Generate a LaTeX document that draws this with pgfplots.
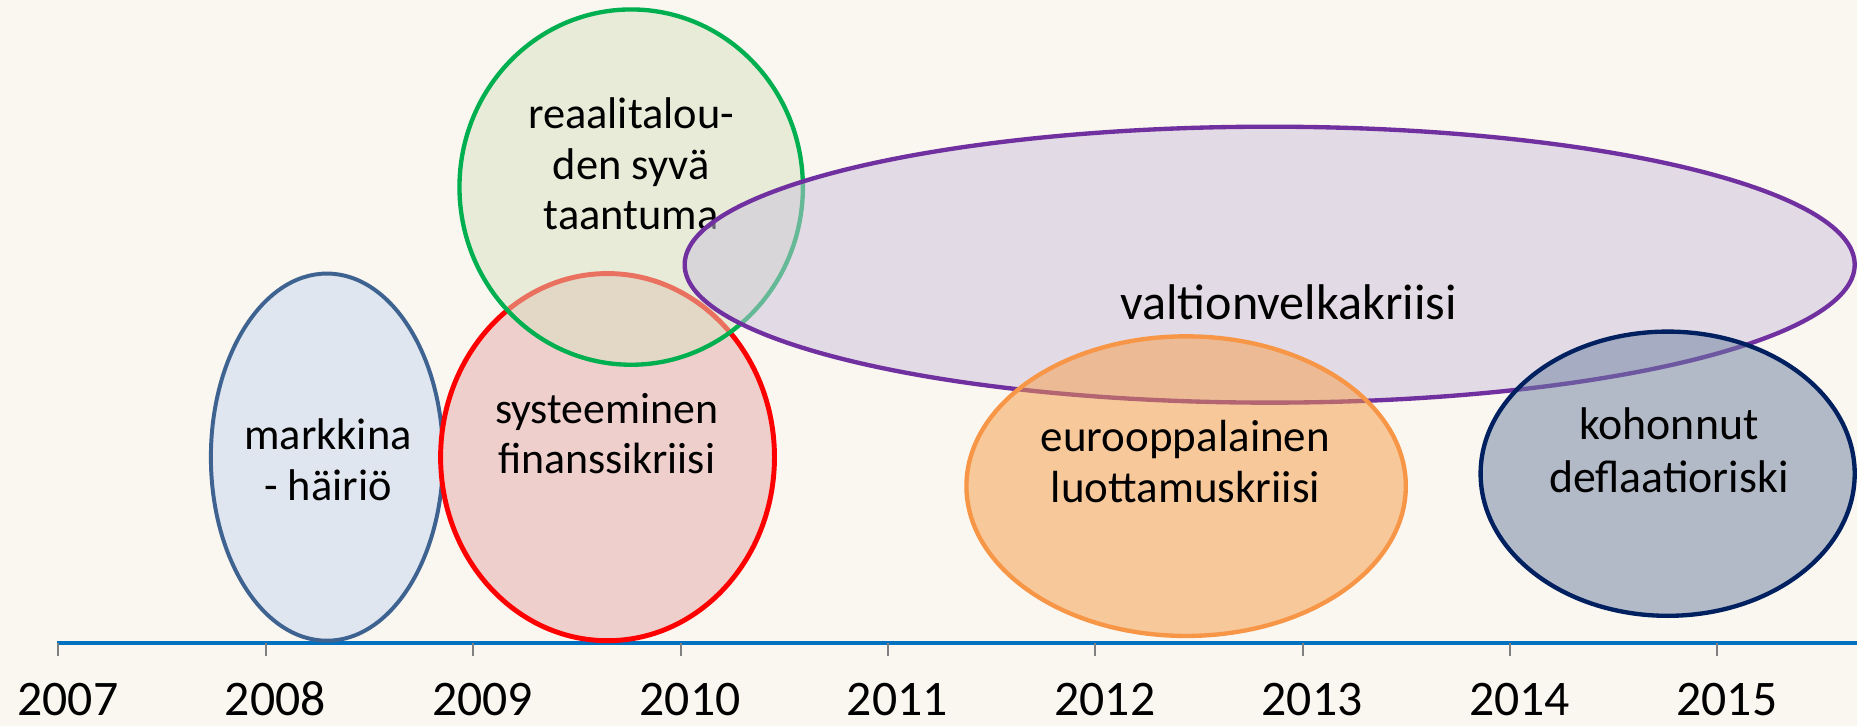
\documentclass[border=0pt]{standalone}
\usepackage{pgfplots}
\pgfplotsset{compat=1.18}
\usepackage{fontspec}
\setmainfont{Carlito}
\definecolor{bgc}{HTML}{FAF6F0}
\definecolor{blueL}{HTML}{3E6391}
\definecolor{blueF}{HTML}{DFE6EF}
\definecolor{redL}{HTML}{FF0000}
\definecolor{redF}{HTML}{EFCFCC}
\definecolor{greenL}{HTML}{00B050}
\definecolor{greenF}{RGB}{214,226,192}
\definecolor{purpL}{HTML}{7030A0}
\definecolor{purpF}{RGB}{204,194,220}
\definecolor{oranL}{HTML}{F79646}
\definecolor{oranF}{RGB}{246,156,70}
\definecolor{navyL}{HTML}{002060}
\definecolor{navyF}{RGB}{108,126,160}
\definecolor{axblue}{HTML}{0070C0}
\begin{document}
\begin{tikzpicture}
\begin{axis}[
  scale only axis, width=470.4pt, height=183.9pt,
  xmin=2006.7184, xmax=2015.673, ymin=-70, ymax=543,
  hide axis, clip=true,
]
\fill[bgc] (rel axis cs:0,0) rectangle (rel axis cs:1,1);
% time axis
\addplot[axblue, line width=0.85pt, forget plot] coordinates {(2006.995,0) (2015.673,0)};
\addplot[gray, line width=0.5pt, ycomb, mark=none, forget plot] coordinates {
(2007,-11) (2008,-11) (2009,-11) (2010,-11) (2011,-11) (2012,-11) (2013,-11) (2014,-11) (2015,-11)};
\foreach \yr in {2007,...,2015}{
  \edef\tmp{\noexpand\node[anchor=base, inner sep=0pt, xshift=2.4pt, font=\noexpand\fontsize{12.6}{14}\noexpand\selectfont] at (axis cs:\yr,-61) {\yr};}
  \tmp
}
% ellipses
\draw[blueL, line width=1pt, fill=blueF] (axis cs:2008.295,157) ellipse [x radius=0.5597, y radius=155];
\draw[redL, line width=1.25pt, fill=redF] (axis cs:2009.648,157) ellipse [x radius=0.805, y radius=155];
\fill[greenF, fill opacity=0.5] (axis cs:2009.762,385) ellipse [x radius=0.828, y radius=150];
\draw[greenL, line width=1.1pt] (axis cs:2009.762,385) ellipse [x radius=0.828, y radius=150];
\node[font=\fontsize{11.25}{12.8}\selectfont, align=center] at (axis cs:2008.30,155) {markkina\\- häiriö};
\node[font=\fontsize{11.1}{12.8}\selectfont, align=center] at (axis cs:2009.644,177) {systeeminen\\finanssikriisi};
\node[font=\fontsize{11.25}{12.8}\selectfont, align=center] at (axis cs:2009.762,404.5) {reaalitalou-\\den syvä\\taantuma};
\fill[purpF, fill opacity=0.5] (axis cs:2012.841,319.5) ellipse [x radius=2.821, y radius=116.5];
\draw[purpL, line width=1.1pt] (axis cs:2012.841,319.5) ellipse [x radius=2.821, y radius=116.5];
\node[font=\fontsize{12.7}{14}\selectfont, align=center] at (axis cs:2012.932,288) {valtionvelkakriisi};
\fill[oranF, fill opacity=0.5] (axis cs:2012.438,132.5) ellipse [x radius=1.0594, y radius=126.5];
\draw[oranL, line width=1.1pt] (axis cs:2012.438,132.5) ellipse [x radius=1.0594, y radius=126.5];
\node[font=\fontsize{11.4}{12.8}\selectfont, align=center] at (axis cs:2012.435,153.5) {eurooppalainen\\luottamuskriisi};
\fill[navyF, fill opacity=0.5] (axis cs:2014.760,143) ellipse [x radius=0.902, y radius=120];
\draw[navyL, line width=1.1pt] (axis cs:2014.760,143) ellipse [x radius=0.902, y radius=120];
\node[font=\fontsize{11.6}{13.4}\selectfont, align=center] at (axis cs:2014.766,163) {kohonnut\\deflaatioriski};
\end{axis}
\end{tikzpicture}
\end{document}
